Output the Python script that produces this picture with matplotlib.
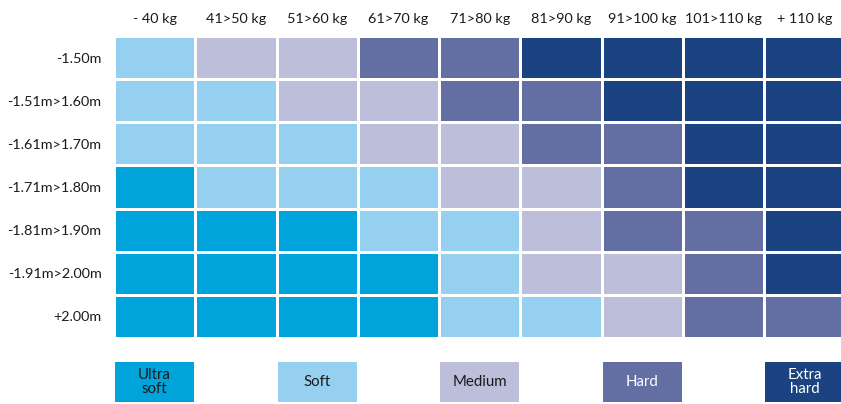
import numpy as np
import matplotlib
matplotlib.use("Agg")
from matplotlib import pyplot as plt
from matplotlib.colors import ListedColormap

weights = ['- 40 kg', '41>50 kg', '51>60 kg', '61>70 kg', '71>80 kg',
           '81>90 kg', '91>100 kg', '101>110 kg', '+ 110 kg']
heights = ['-1.50m', '-1.51m>1.60m', '-1.61m>1.70m', '-1.71m>1.80m',
           '-1.81m>1.90m', '-1.91m>2.00m', '+2.00m']
levels = ['Ultra\nsoft', 'Soft', 'Medium', 'Hard', 'Extra\nhard']
level_pos = [0, 2, 4, 6, 8]

# 0 ultra soft .. 4 extra hard
grid = [
    [1, 2, 2, 3, 3, 4, 4, 4, 4],
    [1, 1, 2, 2, 3, 3, 4, 4, 4],
    [1, 1, 1, 2, 2, 3, 3, 4, 4],
    [0, 1, 1, 1, 2, 2, 3, 4, 4],
    [0, 0, 0, 1, 1, 2, 3, 3, 4],
    [0, 0, 0, 0, 1, 2, 2, 3, 4],
    [0, 0, 0, 0, 1, 1, 2, 3, 3],
]

colors = ['#00a3da', '#95d0f0', '#bdbed9', '#636fa3', '#1b4382']
text_colors = ['#1a1a1a', '#1a1a1a', '#1a1a1a', 'white', 'white']
cmap = ListedColormap(colors)

plt.rcParams['font.family'] = ['Lato', 'DejaVu Sans']

W, H = 841, 404
fig = plt.figure(figsize=(W / 100, H / 100), dpi=100)
fig.patch.set_facecolor('white')

x0 = 114
cw = 81.3
gx = x0 / W
gw = 9 * cw / W

# main grid
top, bot = 36, 338
ax = fig.add_axes([gx, 1 - bot / H, gw, (bot - top) / H])
data = np.array(grid)
ax.pcolormesh(data, cmap=cmap, vmin=-0.5, vmax=4.5,
              edgecolors='white', linewidth=2)
ax.set_xlim(0, 9)
ax.set_ylim(len(heights), 0)
ax.set_xticks(np.arange(9) + 0.5)
ax.set_xticklabels(weights, fontsize=10.4, color='#1a1a1a')
ax.xaxis.tick_top()
ax.set_yticks(np.arange(len(heights)) + 0.5)
ax.set_yticklabels(heights, fontsize=10.4, color='#1a1a1a')
ax.tick_params(length=0, pad=9)
ax.tick_params(axis='x', pad=8)
for s in ax.spines.values():
    s.set_visible(False)

# legend boxes
ltop, lbot = 362, 402
lax = fig.add_axes([gx, 1 - lbot / H, gw, (lbot - ltop) / H])
for i, (lab, p) in enumerate(zip(levels, level_pos)):
    lax.bar(p + 0.5, 1, width=0.975, bottom=0, color=colors[i])
    lax.text(p + 0.5, 0.5, lab, ha='center', va='center', fontsize=10.8,
             color=text_colors[i], linespacing=1.0)
lax.set_xlim(0, 9)
lax.set_ylim(0, 1)
lax.axis('off')

fig.savefig('out.png', dpi=100, facecolor='white')
